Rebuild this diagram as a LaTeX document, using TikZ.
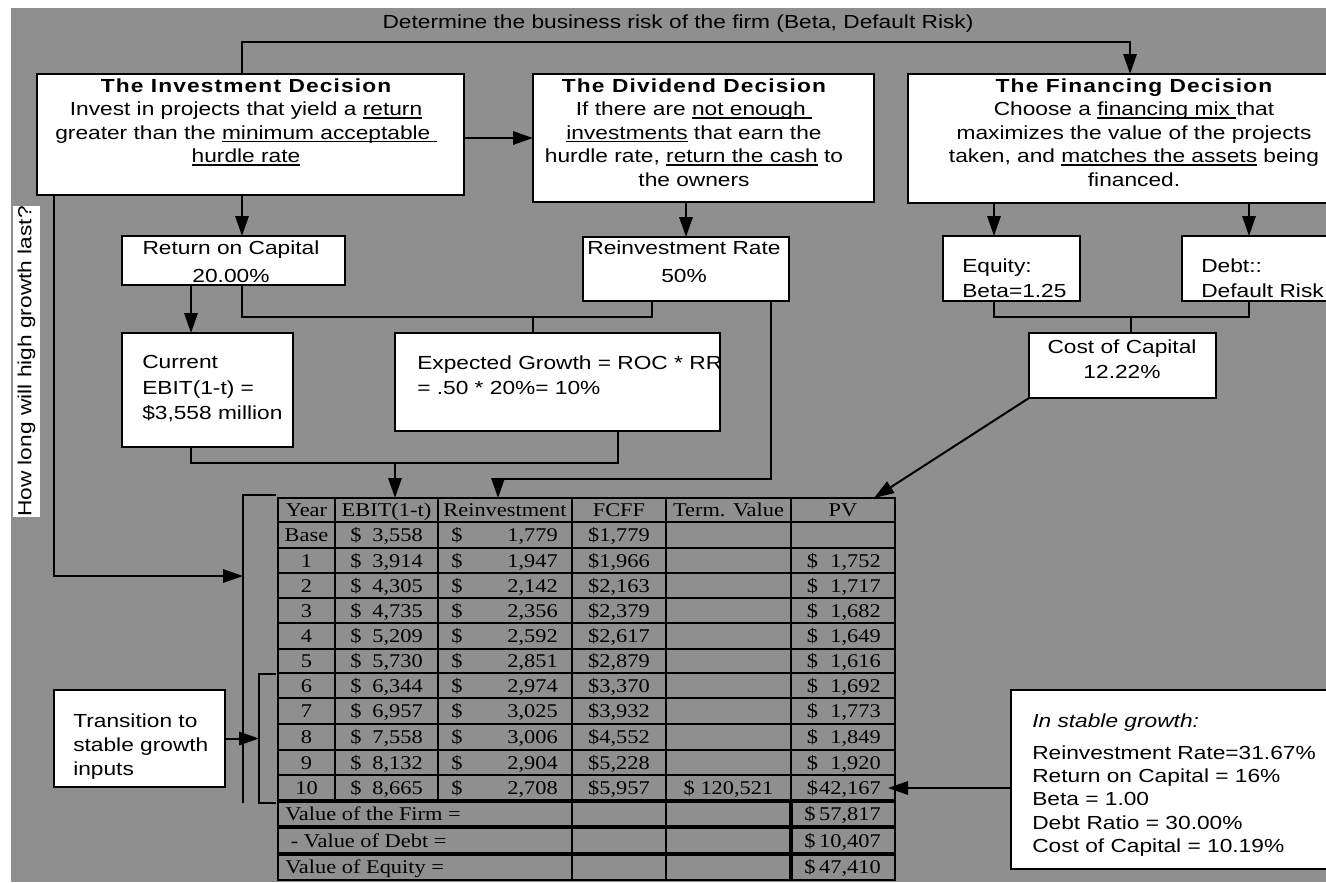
\documentclass[tikz,border=0pt]{standalone}
\usepackage{fontspec}
\setmainfont{Liberation Sans}[FakeStretch=1.2]
\newfontfamily\tms{Liberation Serif}[FakeStretch=1.15]
\newfontfamily\ttlf{Liberation Sans}[FakeStretch=1.2,LetterSpace=6]
\usetikzlibrary{arrows.meta}
\definecolor{bg}{RGB}{143,143,143}
\newcommand\ulx[1]{\setbox0\hbox{#1}\rlap{\rule[-2.2pt]{\wd0}{0.9pt}}\box0\relax}
\newcommand\mkbox[6][]{\node[bx,anchor=north west,minimum width={(#5-#3)*0.75pt},minimum height={(#6-#4)*0.75pt},#1] (#2) at (#3,#4) {};}
\newcommand\trow[9]{%
 \node[tc,anchor=base] (yr#1) at (306.5,{#2+6.6}) {#3};
 \node[tc,anchor=base west] (ed#1) at (350,{#2+6.6}) {\$};
 \node[tc,anchor=base east] (ev#1) at (423,{#2+6.6}) {#4};
 \node[tc,anchor=base west] (rd#1) at (451,{#2+6.6}) {\$};
 \node[tc,anchor=base east] (rv#1) at (558,{#2+6.6}) {#5};
 \node[tc,anchor=base] (fc#1) at (619,{#2+6.6}) {\$#6};
 \node[tc,anchor=base] (tv#1) at (728.5,{#2+6.6}) {#7};
 \node[tc,anchor=base west] (pd#1) at (806.5,{#2+6.6}) {#8};
 \node[tc,anchor=base east] (pv#1) at (881,{#2+6.6}) {#9};
}
\tikzset{
 bx/.style={draw=black,line width=1.5pt,fill=white,inner sep=0pt,outer sep=0pt},
 ln/.style={line width=1.5pt},
 arr/.style={line width=1.5pt,-{Triangle[length=15pt,width=10pt]}},
 tx/.style={inner sep=0pt,font=\fontsize{14.2}{17.6}\selectfont},
 tc/.style={inner sep=0pt,font={\tms\fontsize{14.6}{17}\selectfont}},
 grid/.style={line width=1.5pt},
 thick3/.style={line width=3pt}
}
\begin{document}
\begin{tikzpicture}[x=0.75pt,y=-0.75pt]
\useasboundingbox (0,0) rectangle (1326,882);
\clip (0,0) rectangle (1326,882);
\fill[white] (0,0) rectangle (1326,882);
\fill[bg] (11,8) rectangle (1326,882);

% title
\node[tx,anchor=base] (title) at (678,28.5) {Determine the business risk of the firm (Beta, Default Risk)};

% vertical label
\node[fill=white,inner sep=0pt,rotate=90,minimum width={307*0.75pt},minimum height={27*0.75pt},font=\fontsize{14.2}{17}\selectfont] (vlab) at (26.5,361.5) {How long will high growth last?};

% boxes
\mkbox{inv}{37}{74}{464}{195}
\mkbox{div}{533}{74}{874}{202}
\mkbox{fin}{908}{74}{1352}{203}
\mkbox{roc}{122}{236}{345}{285}
\mkbox{rr}{583}{237}{789}{301}
\mkbox{eq}{943}{236}{1080}{301}
\mkbox{debt}{1182}{236}{1345}{301}
\mkbox{ebit}{122}{333}{293}{447}
\mkbox{eg}{395}{333}{720}{431}
\mkbox{coc}{1029}{333}{1216}{398}
\mkbox{trans}{54}{690}{225}{787}
\mkbox{stab}{1011}{690}{1360}{869}

% box texts
\node[tx,align=center,anchor=north] (invT) at (246,78.3) {{\ttlf\bfseries The Investment Decision}\\Invest in projects that yield a \ulx{return}\\greater than the \ulx{minimum acceptable }\\\ulx{hurdle rate}};
\node[tx,align=center,anchor=north] (divT) at (694,78.3) {{\ttlf\bfseries The Dividend Decision}\\If there are \ulx{not enough }\\\ulx{investments} that earn the\\hurdle rate, \ulx{return the cash} to\\the owners};
\node[tx,align=center,anchor=north] (finT) at (1134,78.3) {{\ttlf\bfseries The Financing Decision}\\Choose a \ulx{financing mix }that\\maximizes the value of the projects\\taken, and \ulx{matches the assets} being\\financed.};
\node[tx,align=center,anchor=north,font=\fontsize{14.2}{20.8}\selectfont] (rocT) at (231,240.3) {Return on Capital\\20.00\%};
\node[tx,align=center,anchor=north,font=\fontsize{14.2}{20.8}\selectfont] (rrT) at (684,240.3) {Reinvestment Rate\\50\%};
\node[tx,align=left,anchor=north west,font=\fontsize{14.2}{18.75}\selectfont] (eqT) at (962,258.3) {Equity:\\Beta=1.25};
\node[tx,align=left,anchor=north west,font=\fontsize{14.2}{18.75}\selectfont] (debtT) at (1201,258.3) {Debt::\\Default Risk};
\node[tx,align=center,anchor=north,font=\fontsize{14.2}{18.75}\selectfont] (cocT) at (1122,339.3) {Cost of Capital\\12.22\%};
\node[tx,align=left,anchor=north west,font=\fontsize{14.2}{19.1}\selectfont] (ebitT) at (142,355.5) {Current\\EBIT(1-t) =\\\$3,558 million};
\begin{scope}
\clip (eg.south west) rectangle (eg.north east);
\node[tx,align=left,anchor=north west,font=\fontsize{14.2}{19.1}\selectfont] (egT) at (417,355.5) {Expected Growth = ROC * RR\\= .50 * 20\%= 10\%};
\end{scope}
\draw[line width=1.5pt] (eg.south west) rectangle (eg.north east);
\node[tx,align=left,anchor=north west,font=\fontsize{14.2}{18}\selectfont] (transT) at (73,713.3) {Transition to\\stable growth\\inputs};
\node[tx,align=left,anchor=north west,font=\fontsize{14.2}{17.5}\selectfont] (stabT) at (1032,713.3) {\textit{In stable growth:}\\[6.5pt]Reinvestment Rate=31.67\%\\Return on Capital = 16\%\\Beta = 1.00\\Debt Ratio = 30.00\%\\Cost of Capital = 10.19\%};

% table frame
\node[draw,line width=1.5pt,inner sep=0pt,outer sep=0pt,anchor=north west,minimum width={617*0.75pt},minimum height={382*0.75pt}] (tbl) at (278,498) {};
\foreach \yy in {522,548,573,598,623,649,673,698,724,750,775}
  \draw[grid] (278,\yy) -- (895,\yy);
\foreach \yy in {801,827,854}
  \draw[thick3] (278,\yy) -- (895,\yy);
\foreach \xx in {335,438,572,666,791}
  \draw[grid] (\xx,498) -- (\xx,801);
\draw[line width=1pt] (572,803) -- (572,825) (572,829) -- (572,852) (572,856) -- (572,880);
\draw[line width=1pt] (666,803) -- (666,825) (666,829) -- (666,852) (666,856) -- (666,880);
\draw[thick3] (791,801) -- (791,880);

% table header
\node[tc,anchor=base] (h1) at (306.5,516.6) {Year};
\node[tc,anchor=base] (h2) at (386.5,516.6) {EBIT(1-t)};
\node[tc,anchor=base] (h3) at (505,516.6) {Reinvestment};
\node[tc,anchor=base] (h4) at (619,516.6) {FCFF};
\node[tc,anchor=base] (h5) at (728.5,516.6) {Term. Value};
\node[tc,anchor=base] (h6) at (843,516.6) {PV};

\trow{b}{535}{Base}{3,558}{1,779}{1,779}{}{}{}
\trow{1}{560.5}{1}{3,914}{1,947}{1,966}{}{\$}{1,752}
\trow{2}{585.5}{2}{4,305}{2,142}{2,163}{}{\$}{1,717}
\trow{3}{610.5}{3}{4,735}{2,356}{2,379}{}{\$}{1,682}
\trow{4}{636}{4}{5,209}{2,592}{2,617}{}{\$}{1,649}
\trow{5}{661}{5}{5,730}{2,851}{2,879}{}{\$}{1,616}
\trow{6}{685.5}{6}{6,344}{2,974}{3,370}{}{\$}{1,692}
\trow{7}{711}{7}{6,957}{3,025}{3,932}{}{\$}{1,773}
\trow{8}{737}{8}{7,558}{3,006}{4,552}{}{\$}{1,849}
\trow{9}{762.5}{9}{8,132}{2,904}{5,228}{}{\$}{1,920}
\trow{10}{788}{10}{8,665}{2,708}{5,957}{\$ 120,521}{\$}{42,167}

\node[tc,anchor=base west] (vf) at (285,820.6) {Value of the Firm =};
\node[tc,anchor=base west] (vd) at (285,847.1) {\ - Value of Debt =};
\node[tc,anchor=base west] (ve) at (285,873.6) {Value of Equity =};
\node[tc,anchor=base west] (vfd) at (804,820.6) {\$};
\node[tc,anchor=base east] (vfv) at (881,820.6) {57,817};
\node[tc,anchor=base west] (vdd) at (804,847.1) {\$};
\node[tc,anchor=base east] (vdv) at (881,847.1) {10,407};
\node[tc,anchor=base west] (ved) at (804,873.6) {\$};
\node[tc,anchor=base east] (vev) at (881,873.6) {47,410};

% brackets
\draw[ln] (276,495) -- (243,495) -- (243,803);
\draw[ln] (276,674) -- (259,674) -- (259,803) -- (276,803);

% helper coordinates
\coordinate (cTL) at (242,42);
\coordinate (cTR) at (1130,42);
\coordinate (xA) at (242,0);
\coordinate (xC) at (191,0);
\coordinate (xE) at (994,0);
\coordinate (xD) at (1249,0);
\coordinate (xR) at (652,0);
\coordinate (xG) at (618,0);
\coordinate (xF) at (771,0);
\coordinate (xH) at (874,0);
\coordinate (xL) at (54,0);
\coordinate (bI) at (259,0);
\coordinate (m1) at (533,317);
\coordinate (m2) at (1131,317);
\coordinate (m3) at (395,463);
\coordinate (m4) at (498,479);
\coordinate (bO) at (243,576);
\coordinate (pvt) at (888,788);

% connectors
\draw[arr] (inv.north -| cTL) |- (cTR) -- (fin.north -| cTR);
\draw[arr] (inv.east |- div.west) -- (div.west);
\draw[arr] (inv.south -| xA) -- (roc.north -| xA);
\draw[arr] (div.south -| rr.north) -- (rr.north);
\draw[arr] (fin.south -| xE) -- (eq.north -| xE);
\draw[arr] (fin.south -| xD) -- (debt.north -| xD);
\draw[arr] (roc.south -| xC) -- (ebit.north -| xC);
\draw[ln] (roc.south -| xA) |- (m1) -| (rr.south -| xR);
\draw[ln] (m1) -- (eg.north -| m1);
\draw[ln] (eq.south -| xE) |- (m2) -| (debt.south -| xD);
\draw[ln] (m2) -- (coc.north -| m2);
\draw[ln] (ebit.south -| xC) |- (m3) -| (eg.south -| xG);
\draw[arr] (m3) -- (tbl.north -| m3);
\draw[arr] (rr.south -| xF) |- (m4) -- (tbl.north -| m4);
\draw[arr] (coc.south west) -- (tbl.north -| xH);
\draw[arr] (inv.south -| xL) |- (bO);
\draw[arr] (trans.east) -- (trans.east -| bI);
\draw[arr] (stab.west |- pvt) -- (pvt);
\end{tikzpicture}
\end{document}
